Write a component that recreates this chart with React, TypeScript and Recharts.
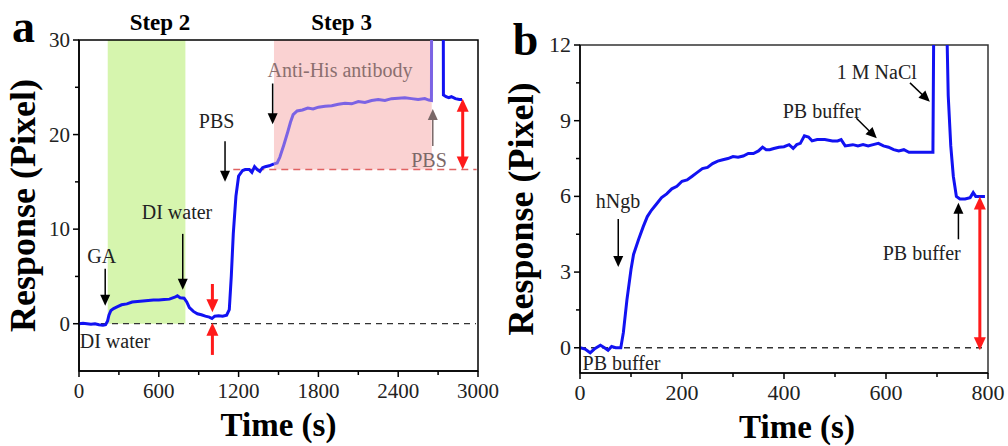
import React from 'react';
import { LineChart, Line, XAxis, YAxis, ReferenceArea, ReferenceLine, ReferenceDot } from 'recharts';

// ---------- Panel a data ----------
const aSeg1Time = [0, 30, 60, 90, 120, 150, 180, 200, 215, 225, 240, 260, 290, 320, 360, 400, 440, 480, 520, 560, 600, 640, 680, 720, 740, 760, 790, 810, 830, 860, 890, 920, 950, 980, 1000, 1020, 1050, 1080, 1110, 1130, 1145, 1160, 1180, 1200, 1230, 1250, 1280, 1300, 1320, 1340, 1360, 1380, 1400, 1430, 1466];
const aSeg1Resp = [0.0, 0.05, 0.0, -0.05, 0.0, -0.1, -0.15, -0.1, 0.3, 0.9, 1.4, 1.6, 1.8, 2.0, 2.1, 2.3, 2.35, 2.4, 2.45, 2.5, 2.5, 2.55, 2.6, 2.8, 2.95, 2.75, 2.7, 2.3, 1.7, 1.3, 1.05, 0.95, 0.8, 0.7, 0.55, 0.8, 0.85, 0.8, 0.9, 1.5, 5.0, 9.5, 13.5, 15.6, 16.2, 16.3, 16.3, 16.0, 16.6, 16.3, 16.1, 16.5, 16.6, 16.7, 16.9];
const aSeg2Time = [1466, 1490, 1510, 1540, 1570, 1590, 1610, 1640, 1680, 1720, 1760, 1800, 1850, 1900, 1950, 2000, 2050, 2100, 2150, 2200, 2250, 2300, 2350, 2400, 2450, 2500, 2550, 2600, 2630, 2650, 2652];
const aSeg2Resp = [16.9, 17.0, 17.6, 18.9, 20.3, 21.3, 22.1, 22.5, 22.6, 22.8, 22.7, 22.9, 23.0, 23.05, 23.2, 23.3, 23.25, 23.5, 23.4, 23.6, 23.7, 23.6, 23.8, 23.85, 23.9, 23.8, 23.7, 23.8, 23.65, 23.6, 40];
const aSeg3Time = [2738, 2740, 2760, 2780, 2800, 2830, 2860, 2880];
const aSeg3Resp = [40, 24.2, 24.0, 23.9, 24.0, 23.8, 23.7, 23.7];
const aXTicks = [0, 300, 600, 900, 1200, 1500, 1800, 2100, 2400, 2700, 3000];
const aXMajor = [0, 600, 1200, 1800, 2400, 3000];
const aYTicks = [0, 5, 10, 15, 20, 25, 30];
const aYMajor = [0, 10, 20, 30];

// ---------- Panel b data ----------
const bSeg1Time = [0, 10, 20, 28, 40, 48, 55, 62, 70, 80, 85, 92, 100, 105, 115, 124, 132, 140, 150, 160, 170, 180, 190, 200, 210, 220, 230, 240, 250, 260, 270, 280, 290, 300, 310, 320, 330, 340, 350, 358, 365, 372, 380, 390, 400, 410, 418, 425, 432, 440, 448, 455, 465, 480, 495, 505, 512, 520, 535, 545, 555, 565, 575, 585, 595, 605, 615, 625, 635, 645, 660, 675, 692, 694];
const bSeg1Resp = [0, -0.05, -0.2, -0.05, 0.1, 0.0, -0.1, 0.05, 0.0, 0.0, 0.6, 1.9, 3.1, 3.7, 4.3, 4.8, 5.2, 5.45, 5.7, 5.95, 6.1, 6.3, 6.4, 6.6, 6.65, 6.8, 6.95, 7.1, 7.15, 7.3, 7.4, 7.45, 7.5, 7.58, 7.55, 7.6, 7.7, 7.7, 7.8, 7.95, 7.85, 7.85, 7.9, 7.95, 7.97, 8.05, 7.9, 8.05, 8.1, 8.4, 8.35, 8.2, 8.25, 8.25, 8.2, 8.2, 8.25, 8.0, 8.05, 8.0, 8.05, 8.0, 8.05, 8.1, 8.0, 7.95, 7.85, 7.8, 7.85, 7.75, 7.75, 7.75, 7.75, 14];
const bSeg2Time = [718, 722, 727, 732, 738, 745, 755, 765, 771, 776, 782, 794];
const bSeg2Resp = [14, 10, 8, 6.8, 6.0, 5.9, 5.9, 5.95, 6.15, 6.0, 6.0, 6.0];
const bXTicks = [0, 100, 200, 300, 400, 500, 600, 700, 800];
const bXMajor = [0, 200, 400, 600, 800];
const bYTicks = [0, 1.5, 3, 4.5, 6, 7.5, 9, 10.5, 12];
const bYMajor = [0, 3, 6, 9, 12];

const zip = (ts: number[], vs: number[]) => ts.map((t, i) => ({ t, v: vs[i] }));

const SERIF = '"Liberation Serif", "Times New Roman", serif';
const BLUE = '#1212f2';
const PURPLE = '#7b63e4';
const RED = '#ff1a1a';

function arrowShape(color: string, width: number, headLen: number, headW: number, both = false) {
  return (p: any) => {
    const { x1, y1, x2, y2 } = p;
    const dx = x2 - x1, dy = y2 - y1;
    const len = Math.hypot(dx, dy) || 1;
    const ux = dx / len, uy = dy / len;
    const head = (tx: number, ty: number, vx: number, vy: number) => {
      const bx = tx - vx * headLen, by = ty - vy * headLen;
      return `${tx},${ty} ${bx - vy * headW},${by + vx * headW} ${bx + vy * headW},${by - vx * headW}`;
    };
    const sx = both ? x1 + ux * headLen * 0.8 : x1;
    const sy = both ? y1 + uy * headLen * 0.8 : y1;
    return (
      <g>
        <line x1={sx} y1={sy} x2={x2 - ux * headLen * 0.8} y2={y2 - uy * headLen * 0.8} stroke={color} strokeWidth={width} />
        <polygon points={head(x2, y2, ux, uy)} fill={color} />
        {both && <polygon points={head(x1, y1, -ux, -uy)} fill={color} />}
      </g>
    );
  };
}

function textShape(text: string, opts: { size?: number; weight?: string; color?: string; anchor?: string } = {}) {
  return (p: any) => (
    <text x={p.cx} y={p.cy} textAnchor={opts.anchor || 'middle'} fontSize={opts.size || 20} fontWeight={opts.weight || 'normal'} fill={opts.color || '#222'} fontFamily={SERIF}>
      {text}
    </text>
  );
}

function xTick(major: number[], size: number) {
  return (p: any) => {
    const v = p.payload.value;
    const isMajor = major.includes(v);
    return (
      <g>
        <line x1={p.x} y1={p.y} x2={p.x} y2={p.y + (isMajor ? 6 : 4)} stroke="#000" strokeWidth={1.5} />
        {isMajor && (
          <text x={p.x} y={p.y + 27} textAnchor="middle" fontSize={size} fill="#222" fontFamily={SERIF}>{v}</text>
        )}
      </g>
    );
  };
}

function yTick(major: number[], size: number) {
  return (p: any) => {
    const v = p.payload.value;
    const isMajor = major.includes(v);
    return (
      <g>
        <line x1={p.x} y1={p.y} x2={p.x - (isMajor ? 6 : 4)} y2={p.y} stroke="#000" strokeWidth={1.5} />
        {isMajor && (
          <text x={p.x - 9} y={p.y + 7} textAnchor="end" fontSize={size} fill="#222" fontFamily={SERIF}>{v}</text>
        )}
      </g>
    );
  };
}

const yLabel = (xOff: number) => (p: any) => {
  const vb = p.viewBox;
  const cx = vb.x + xOff;
  const cy = vb.y + vb.height / 2;
  return (
    <text x={cx} y={cy} transform={`rotate(-90, ${cx}, ${cy})`} textAnchor="middle" fontSize={36} fontWeight="bold" fill="#000" fontFamily={SERIF}>
      Response (Pixel)
    </text>
  );
};

const xLabel = (dx: number) => (p: any) => {
  const vb = p.viewBox;
  return (
    <text x={vb.x + vb.width / 2 + dx} y={vb.y + 65} textAnchor="middle" fontSize={33} fontWeight="bold" fill="#000" fontFamily={SERIF}>
      Time (s)
    </text>
  );
};

function PanelA() {
  const blackArrow = arrowShape('#000', 1.5, 11, 5);
  const redArrow = arrowShape(RED, 3, 13, 6);
  return (
    <LineChart width={500} height={446} margin={{ top: 40, right: 22, bottom: 0, left: 0 }}>
      <XAxis dataKey="t" type="number" domain={[0, 3000]} ticks={aXTicks} interval={0} allowDataOverflow height={75}
        tickSize={0} tickMargin={0} tickLine={false} tick={xTick(aXMajor, 21)} axisLine={{ stroke: '#000', strokeWidth: 1.5 }}
        label={{ content: xLabel(0) } as any} />
      <YAxis type="number" domain={[-5, 30]} ticks={aYTicks} interval={0} allowDataOverflow width={79}
        tickSize={0} tickMargin={0} tickLine={false} tick={yTick(aYMajor, 21)} axisLine={{ stroke: '#000', strokeWidth: 1.5 }}
        label={{ content: yLabel(35) } as any} />
      <ReferenceArea x1={216} x2={800} y1={0} y2={30} fill="#d6f5ae" fillOpacity={1} stroke="none" />
      <ReferenceArea x1={1466} x2={2652} y1={16.3} y2={30} fill="#fad2d2" fillOpacity={1} stroke="none" />
      <ReferenceArea x1={0} x2={3000} y1={-5} y2={30} fill="none" stroke="#000" strokeWidth={1.5} />
      <ReferenceLine segment={[{ x: 0, y: 0 }, { x: 2985, y: 0 }]} stroke="#333" strokeWidth={1.3} strokeDasharray="6 5" />
      <ReferenceLine segment={[{ x: 1160, y: 16.3 }, { x: 2990, y: 16.3 }]} stroke="#e06262" strokeWidth={1.6} strokeDasharray="7 5" />
      <Line data={zip(aSeg1Time, aSeg1Resp)} dataKey="v" stroke={BLUE} strokeWidth={3} dot={false} isAnimationActive={false} />
      <Line data={zip(aSeg2Time, aSeg2Resp)} dataKey="v" stroke={PURPLE} strokeWidth={3} dot={false} isAnimationActive={false} />
      <Line data={zip(aSeg3Time, aSeg3Resp)} dataKey="v" stroke={BLUE} strokeWidth={3} dot={false} isAnimationActive={false} />
      {/* arrows */}
      <ReferenceLine segment={[{ x: 197, y: 5.8 }, { x: 197, y: 1.9 }]} shape={blackArrow} />
      <ReferenceLine segment={[{ x: 780, y: 9.5 }, { x: 780, y: 3.6 }]} shape={blackArrow} />
      <ReferenceLine segment={[{ x: 1098, y: 19.3 }, { x: 1098, y: 15.0 }]} shape={blackArrow} />
      <ReferenceLine segment={[{ x: 1456, y: 25.4 }, { x: 1456, y: 21.1 }]} shape={blackArrow} />
      <ReferenceLine segment={[{ x: 2660, y: 18.8 }, { x: 2660, y: 22.7 }]} shape={arrowShape('#7a6868', 1.5, 11, 5)} />
      <ReferenceLine segment={[{ x: 1003, y: 4.2 }, { x: 1003, y: 1.2 }]} shape={redArrow} />
      <ReferenceLine segment={[{ x: 1003, y: -3.3 }, { x: 1003, y: 0.1 }]} shape={redArrow} />
      <ReferenceLine segment={[{ x: 2885, y: 16.3 }, { x: 2885, y: 23.8 }]} shape={arrowShape(RED, 3, 13, 6, true)} />
      {/* texts */}
      <ReferenceDot x={-504} y={29.8} ifOverflow="visible" shape={textShape('a', { size: 46, weight: 'bold', color: '#000', anchor: 'start' })} />
      <ReferenceDot x={609} y={31.05} ifOverflow="visible" shape={textShape('Step 2', { size: 23, weight: 'bold', color: '#000' })} />
      <ReferenceDot x={1974} y={31.05} ifOverflow="visible" shape={textShape('Step 3', { size: 23, weight: 'bold', color: '#000' })} />
      <ReferenceDot x={171} y={6.4} ifOverflow="visible" shape={textShape('GA')} />
      <ReferenceDot x={737} y={11.05} ifOverflow="visible" shape={textShape('DI water')} />
      <ReferenceDot x={1035} y={20.7} ifOverflow="visible" shape={textShape('PBS')} />
      <ReferenceDot x={1962} y={26.1} ifOverflow="visible" shape={textShape('Anti-His antibody', { color: '#8b6f6f' })} />
      <ReferenceDot x={2632} y={16.6} ifOverflow="visible" shape={textShape('PBS', { color: '#7a6868' })} />
      <ReferenceDot x={271} y={-2.6} ifOverflow="visible" shape={textShape('DI water')} />
    </LineChart>
  );
}

function PanelB() {
  const blackArrow = arrowShape('#000', 1.5, 11, 5);
  return (
    <LineChart width={508} height={446} margin={{ top: 45, right: 20, bottom: 0, left: 0 }}>
      <XAxis dataKey="t" type="number" domain={[0, 800]} ticks={bXTicks} interval={0} allowDataOverflow height={73}
        tickSize={0} tickMargin={0} tickLine={false} tick={xTick(bXMajor, 22)} axisLine={{ stroke: '#000', strokeWidth: 1.5 }}
        label={{ content: xLabel(13) } as any} />
      <YAxis type="number" domain={[-1, 12]} ticks={bYTicks} interval={0} allowDataOverflow width={80}
        tickSize={0} tickMargin={0} tickLine={false} tick={yTick(bYMajor, 22)} axisLine={{ stroke: '#000', strokeWidth: 1.5 }}
        label={{ content: yLabel(33) } as any} />
      <ReferenceArea x1={0} x2={800} y1={-1} y2={12} fill="none" stroke="#333" strokeWidth={1.5} />
      <ReferenceLine segment={[{ x: 0, y: 0 }, { x: 798, y: 0 }]} stroke="#333" strokeWidth={1.3} strokeDasharray="6 5" />
      <Line data={zip(bSeg1Time, bSeg1Resp)} dataKey="v" stroke={BLUE} strokeWidth={3} dot={false} isAnimationActive={false} />
      <Line data={zip(bSeg2Time, bSeg2Resp)} dataKey="v" stroke={BLUE} strokeWidth={3} dot={false} isAnimationActive={false} />
      <ReferenceLine segment={[{ x: 75, y: 5.1 }, { x: 75, y: 3.2 }]} shape={blackArrow} />
      <ReferenceLine segment={[{ x: 647, y: 10.5 }, { x: 686, y: 9.75 }]} shape={blackArrow} />
      <ReferenceLine segment={[{ x: 542, y: 9.1 }, { x: 582, y: 8.3 }]} shape={blackArrow} />
      <ReferenceLine segment={[{ x: 742, y: 4.3 }, { x: 742, y: 5.75 }]} shape={blackArrow} />
      <ReferenceLine segment={[{ x: 784, y: -0.1 }, { x: 784, y: 6.0 }]} shape={arrowShape(RED, 3, 13, 6, true)} />
      <ReferenceDot x={-132} y={11.6} ifOverflow="visible" shape={textShape('b', { size: 46, weight: 'bold', color: '#000', anchor: 'start' })} />
      <ReferenceDot x={74.5} y={5.54} ifOverflow="visible" shape={textShape('hNgb')} />
      <ReferenceDot x={582} y={10.65} ifOverflow="visible" shape={textShape('1 M NaCl')} />
      <ReferenceDot x={474} y={9.1} ifOverflow="visible" shape={textShape('PB buffer')} />
      <ReferenceDot x={670} y={3.49} ifOverflow="visible" shape={textShape('PB buffer')} />
      <ReferenceDot x={5} y={-0.87} ifOverflow="visible" shape={textShape('PB buffer', { anchor: 'start' })} />
    </LineChart>
  );
}

export default function App() {
  return (
    <div style={{ position: 'absolute', left: 0, top: 0, width: 1008, height: 446, background: '#fff', overflow: 'hidden' }}>
      <div style={{ position: 'absolute', left: 0, top: 0 }}>
        <PanelA />
      </div>
      <div style={{ position: 'absolute', left: 500, top: 0 }}>
        <PanelB />
      </div>
    </div>
  );
}
